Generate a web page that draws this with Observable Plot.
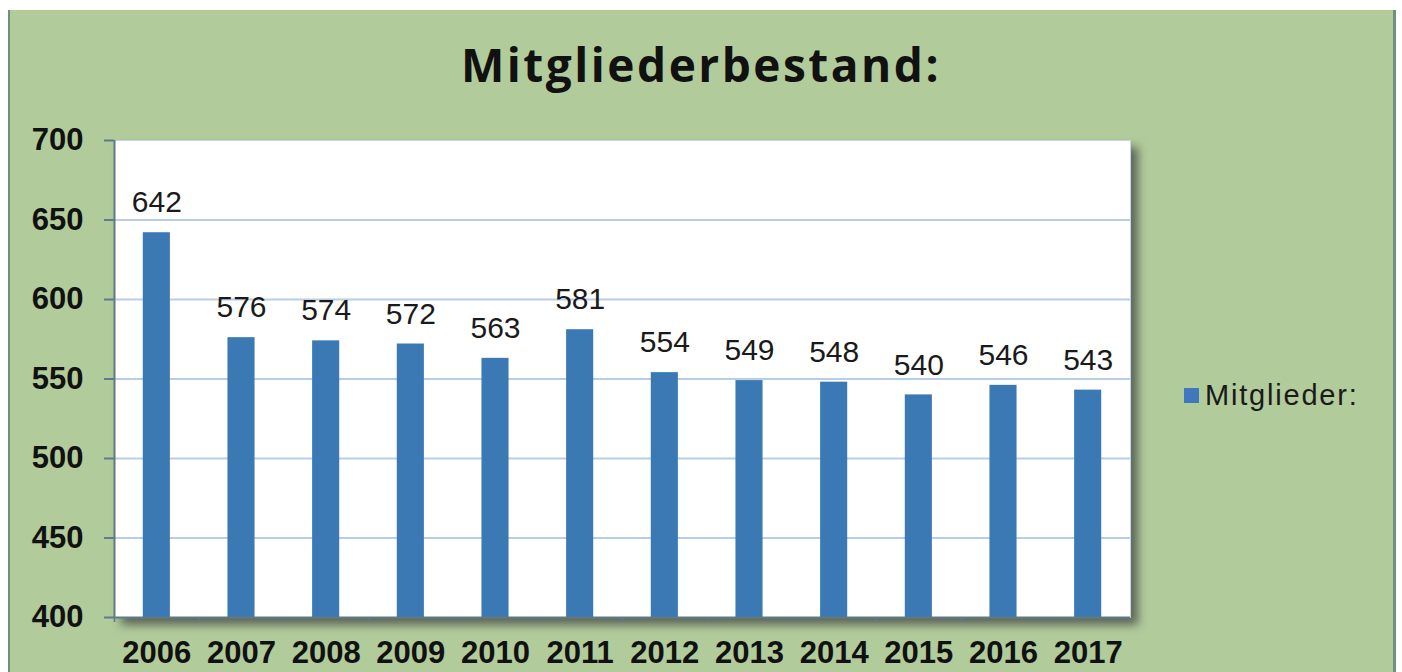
<!DOCTYPE html>
<html>
<head>
<meta charset="utf-8">
<script src="https://cdn.jsdelivr.net/npm/d3@7"></script>
<script src="https://cdn.jsdelivr.net/npm/@observablehq/plot@0.6"></script>
<style>
  html, body { margin: 0; padding: 0; background: #ffffff; }
  #wrap { position: relative; width: 1402px; height: 672px; overflow: hidden; }
  #bg { position: absolute; left: 8px; top: 10px; width: 1388px; height: 662px; background: #b1cb9b;
        border-left: 2px solid #6f8f86; border-right: 3px solid #6f8f86; box-sizing: border-box; }
  #title { position: absolute; left: 0; width: 1402px; top: 33px; text-align: center;
           font-family: "Open Sans", sans-serif; font-weight: 700; font-size: 46px; letter-spacing: 2.5px; color: #111; }
  #chart { position: absolute; left: 0; top: 0; }
  #legend { position: absolute; left: 1184px; top: 379px; font-family: "Liberation Sans", Arial, sans-serif;
            font-size: 29px; color: #1a1a1a; display: flex; align-items: center; letter-spacing: 1.8px; }
  #legend .sw { width: 15px; height: 15px; background: #3f78bf; margin-right: 6px; }
</style>
</head>
<body>
<div id="wrap">
  <div id="bg"></div>
  <div id="title">Mitgliederbestand:</div>
  <div id="chart"></div>
  <div id="legend"><span class="sw"></span><span>Mitglieder:</span></div>
</div>
<script>
const years = ["2006","2007","2008","2009","2010","2011","2012","2013","2014","2015","2016","2017"];
const members = [642, 576, 574, 572, 563, 581, 554, 549, 548, 540, 546, 543];
const yTicks = [400, 450, 500, 550, 600, 650, 700];
const gridTicks = [450, 500, 550, 600, 650];
const seriesName = "Mitglieder:";

const data = years.map((y, i) => ({year: y, value: members[i], series: seriesName}));

const W = 1402, H = 672, mL = 114, mR = 272, mT = 140, mB = 55;
const step = (W - mL - mR) / years.length;
const axisColor = "#5d7b88";
const font = "'Liberation Sans', Arial, sans-serif";

const chart = Plot.plot({
  width: W, height: H,
  marginLeft: mL, marginRight: mR, marginTop: mT, marginBottom: mB,
  style: {background: "transparent", fontFamily: font, overflow: "visible"},
  x: {domain: years, paddingInner: 0.68, paddingOuter: 0.34, round: false, axis: null, label: null},
  y: {domain: [400, 700], axis: null, label: null},
  marks: [
    Plot.frame({fill: "white", stroke: "#c4d5e8"}),
    Plot.gridY(gridTicks, {stroke: "#b9cde5", strokeOpacity: 1, strokeWidth: 2}),
    Plot.barY(data, {x: "year", y1: 400, y2: "value", fill: "#3b79b5"}),
    Plot.text(data, {x: "year", y: "value", text: d => String(d.value), dy: -30,
      fontSize: 30, fill: "#1a1a1a", fontFamily: font}),
    Plot.ruleY([400], {stroke: axisColor, strokeWidth: 2}),
    Plot.ruleX([years[0]], {dx: -step / 2, stroke: axisColor, strokeWidth: 2}),
    Plot.axisY({ticks: yTicks, tickSize: 10, tickPadding: 21, stroke: axisColor, strokeWidth: 2,
      fontSize: 31, fontWeight: "bold", fill: "#111", tickFormat: d => String(d), label: null}),
    Plot.axisX({tickSize: 5, tickFormat: () => "", dx: -step / 2, stroke: axisColor, strokeWidth: 1.5, label: null}),
    Plot.axisX({tickSize: 0, tickPadding: 23, fontSize: 31, fontWeight: 600, fill: "#111", label: null})
  ]
});

const fr = chart.querySelector('[aria-label="frame"]');
if (fr) fr.style.filter = "drop-shadow(7px 7px 5px rgba(60,60,60,0.7))";
document.getElementById("chart").appendChild(chart);
</script>
</body>
</html>
